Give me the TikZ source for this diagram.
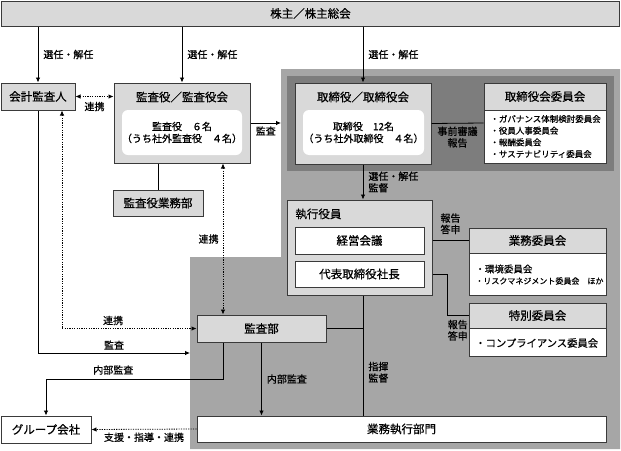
\documentclass[tikz,border=0pt]{standalone}
\usepackage{fontspec}
\setmainfont{Noto Sans CJK JP}[FakeBold=0.6]
\usepackage{tikz}
\usetikzlibrary{arrows.meta,calc,positioning}
\definecolor{boxgray}{HTML}{D9D9D9}
\definecolor{areagray}{HTML}{A6A6A6}
\definecolor{boardgray}{HTML}{7D7D7D}
\definecolor{edgegray}{HTML}{3A3A3A}
\tikzset{%
	panel/.style    = {draw=edgegray, line width=1pt, fill=boxgray, minimum height=26pt, inner sep=0pt, font=\fontsize{11.5}{13}\selectfont}, % gray box
	whitebox/.style = {panel, fill=white}, % white box
	headbox/.style  = {panel, anchor=north}, % header strip of a committee box
	innerbox/.style = {fill=white, rounded corners=6pt, inner sep=0pt, align=center, font=\fontsize{10}{12}\selectfont},
	heading/.style  = {inner sep=0pt, font=\fontsize{11.5}{13}\selectfont},
	itemlist/.style = {anchor=west, align=left, inner sep=0pt, font=\fontsize{8.5}{11.7}\selectfont},
	lbl/.style      = {inner sep=1pt, align=left, font=\fontsize{10}{11.5}\selectfont},
	dotlink/.style  = {dash pattern=on 1.2pt off 1.2pt}, % dotted link
}

\begin{document}
\begin{tikzpicture}[x=1pt, y=-1pt, line width=0.8pt, >={Latex[length=5pt,width=4.5pt]}]
	\useasboundingbox (0,0) rectangle (621,450);
	% shaded areas
	\fill[areagray] (281,69) -- (620,69) -- (620,449) -- (190,449) -- (190,257) -- (281,257) -- cycle;
	\fill[boardgray] (287,76) rectangle (614,171);

	\coordinate (spine) at (363,0);
	\coordinate (dlink) at (223,0);
	\coordinate (audlink) at (62,0);
	\coordinate (tokjog) at (447,0);
	\coordinate (grpturn) at (0,379);
	\coordinate (boardin) at (281,123);
	\coordinate (areain) at (190,353);

	\node[panel, minimum width=618pt, minimum height=25pt] (sh) at (310.5,13.5) {株主／株主総会};
	\node[panel, minimum width=74pt, minimum height=27pt] (aud) at (38,96.5) {会計監査人};

	\node[panel, minimum width=136pt, minimum height=80pt] (kansa) at (182,123) {};
	\node[heading] (kansatitle) at (182,97) {監査役／監査役会};
	\node[innerbox, minimum width=120pt, minimum height=45pt] (kansain) at (182,132.5) {監査役　６名\\（うち社外監査役　４名）};
	\node[panel, minimum width=90pt] (kgyomu) at (158,203) {監査役業務部};

	\node[panel, minimum width=136pt, minimum height=81pt] (tori) at (363,123.5) {};
	\node[heading] (torititle) at (363,97) {取締役／取締役会};
	\node[innerbox, minimum width=121pt, minimum height=45pt] (toriin) at (363.5,132.5) {取締役　12名\\（うち社外取締役　４名）};

	\node[whitebox, minimum width=122pt, minimum height=80pt] (iinkai) at (545,123) {};
	\node[headbox, minimum width=122pt, minimum height=27pt] (iinhd) at (iinkai.north) {取締役会委員会};
	\node[itemlist] (iinlist) at (490,136.5) {・ガバナンス体制検討委員会\\・役員人事委員会\\・報酬委員会\\・サステナビリティ委員会};

	\node[panel, minimum width=145pt, minimum height=95pt] (shikko) at (359.5,247.5) {};
	\node[heading, anchor=west] (shikkotitle) at (295,214) {執行役員};
	\node[whitebox, minimum width=129pt, minimum height=27pt] (keiei) at (359.5,240.5) {経営会議};
	\node[whitebox, minimum width=129pt, minimum height=26pt] (shacho) at (359.5,274) {代表取締役社長};

	\node[whitebox, minimum width=137pt, minimum height=67pt] (gyomu) at (537.5,261.5) {};
	\node[headbox, minimum width=137pt, minimum height=25pt] (gyomuhd) at (gyomu.north) {業務委員会};
	\node[itemlist, font=\fontsize{9.5}{11}\selectfont] (gyomu1) at (475,269) {・環境委員会};
	\node[itemlist, font=\fontsize{8}{10}\selectfont] (gyomu2) at (475,281) {・リスクマネジメント委員会　ほか};

	\node[whitebox, minimum width=137pt, minimum height=53pt] (toku) at (537.5,329.5) {};
	\node[headbox, minimum width=137pt, minimum height=25pt] (tokuhd) at (toku.north) {特別委員会};
	\node[itemlist, font=\fontsize{10.3}{12}\selectfont] (toku1) at (475,343) {・コンプライアンス委員会};

	\node[panel, minimum width=129pt, minimum height=27pt] (kansabu) at (261.5,328.5) {監査部};
	\node[whitebox, minimum width=90pt, minimum height=27pt] (group) at (46,429.5) {グループ会社};
	\node[whitebox, minimum width=409pt, minimum height=26pt] (bumon) at (401.5,429) {業務執行部門};

	% shareholders
	\draw[->] (sh.south -| aud) -- node[lbl, right=4pt] {選任・解任} (aud.north);
	\draw[->] (sh.south -| kansa) -- node[lbl, right=4pt] {選任・解任} (kansa.north);
	\draw[->] (sh.south -| spine) -- node[lbl, right=4pt] {選任・解任} (tori.north);

	% audit side
	\draw[dotlink, <->] (aud.east) -- node[lbl, below=4pt] {連携} (aud.east -| kansa.west);
	\draw[->] (kansa.east) -- node[lbl, below=2pt] {監査} (boardin);
	\draw (kansa.south -| kgyomu) -- (kgyomu.north);
	\draw[dotlink, <->] (kansa.south -| dlink) -- node[lbl, left=3pt] {連携} (kansabu.north -| dlink);
	\draw[dotlink, <->] (aud.south -| audlink) |- node[lbl, above=2pt, pos=0.69] {連携} (kansabu.west);
	\draw[->] (aud.south) |- node[lbl, above=2pt, pos=0.75] {監査} (areain);
	\draw[->] (kansabu.south -| dlink) -- (grpturn -| dlink) -- node[lbl, above=3pt, pos=0.62] {内部監査} (grpturn -| group) -- (group.north);
	\draw[->] (kansabu.south) -- node[lbl, right=4pt] {内部監査} (bumon.north -| kansabu);
	\draw[dotlink, ->] (bumon.west) -- node[lbl, below=2pt] {支援・指導・連携} (group.east);

	% board and execution
	\draw (tori.east) -- node[lbl, below=2pt, align=center] {事前審議\\報告} (iinkai.west);
	\draw[->] (tori.south) -- node[lbl, right=4pt] {選任・解任\\監督} (shikko.north -| spine);
	\draw (keiei -| shikko.east) -- node[lbl, above=5pt, align=center] {報告\\答申} (keiei -| gyomu.west);
	\draw (shacho -| shikko.east) -- (shacho -| tokjog) |- node[lbl, below=3pt, pos=0.75, align=center] {報告\\答申} (tokuhd.west);
	\draw (shikko.south -| spine) -- node[lbl, right=4pt, pos=0.64] {指揮\\監督} (bumon.north -| spine);
	\draw (kansabu.east) -- (kansabu.east -| spine);
\end{tikzpicture}
\end{document}
